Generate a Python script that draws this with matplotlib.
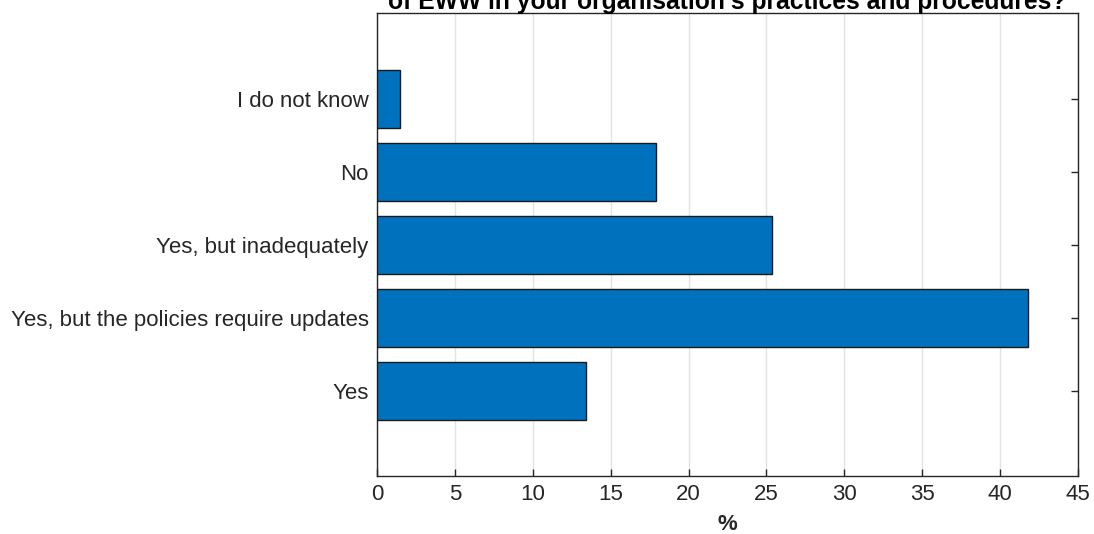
import matplotlib
matplotlib.use("Agg")
import matplotlib.pyplot as plt

plt.rcParams['font.family'] = ['Liberation Sans', 'DejaVu Sans']

categories = ["Yes", "Yes, but the policies require updates", "Yes, but inadequately",
              "No", "I do not know"]
percentages = [13.43, 41.79, 25.37, 17.91, 1.49]
x_ticks = [0, 5, 10, 15, 20, 25, 30, 35, 40, 45]
title_text = "of EWW in your organisation's practices and procedures?"
x_label = "%"

text_color = "#262626"

fig = plt.figure(figsize=(10.94, 5.34), dpi=100)
ax = fig.add_axes([377 / 1094, 58 / 534, 701 / 1094, 463 / 534])

positions = list(range(1, len(categories) + 1))
ax.barh(positions, percentages, height=0.8, color="#0072BD",
        edgecolor="#1a1a1a", linewidth=1.0, zorder=3)

ax.set_xlim(0, 45)
ax.set_ylim(-0.16, 6.18)
ax.set_xticks(x_ticks)
ax.set_xticklabels([str(t) for t in x_ticks])
ax.set_yticks(positions)
ax.set_yticklabels(categories)

ax.grid(axis="x", color="#e3e3e3", linewidth=1.0, zorder=0)
ax.set_axisbelow(True)

ax.tick_params(axis="both", direction="in", length=5, width=1.0, color="#262626",
               labelsize=16, labelcolor=text_color)
ax.tick_params(axis="y", right=True, pad=6)
ax.tick_params(axis="x", pad=6)

for spine in ax.spines.values():
    spine.set_color("#262626")
    spine.set_linewidth(1.0)

ax.set_xlabel(x_label, fontsize=16, fontweight="bold", color=text_color, labelpad=6)

fig.text(727 / 1094, 1 - 9 / 534, title_text, ha="center", va="baseline",
         fontsize=17.7, fontweight="bold", color="#000000")

fig.savefig("out.png", dpi=100)
